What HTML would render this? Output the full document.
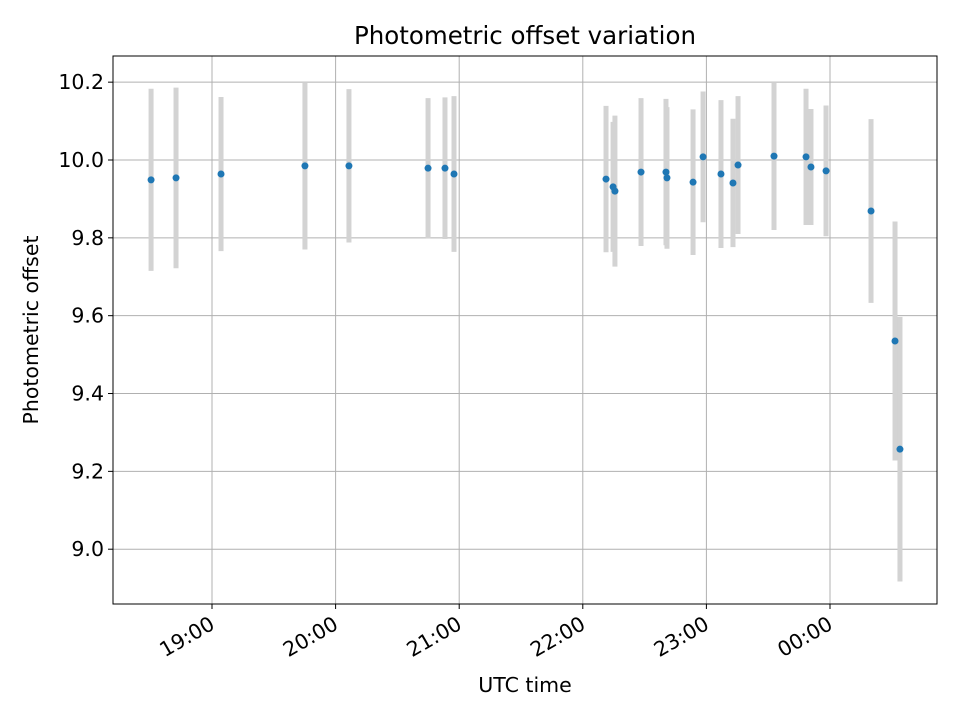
<!DOCTYPE html>
<html><head><meta charset="utf-8"><style>
body{margin:0;background:#fff;}
svg text{font-family:"DejaVu Sans","Liberation Sans",sans-serif;fill:#000;}
</style></head><body>
<svg id="chart" width="960" height="720" xmlns="http://www.w3.org/2000/svg"></svg>
<script>
const times=[18.507,18.709,19.073,19.752,20.108,20.748,20.885,20.958,22.188,22.245,22.26,22.471,22.673,22.681,22.892,22.973,23.118,23.215,23.256,23.547,23.806,23.846,23.968,24.332,24.526,24.566];
const values=[9.949,9.954,9.964,9.985,9.985,9.979,9.979,9.964,9.951,9.931,9.92,9.969,9.969,9.954,9.943,10.008,9.964,9.941,9.987,10.01,10.008,9.982,9.972,9.869,9.535,9.257];
const errors=[0.234,0.232,0.198,0.215,0.197,0.18,0.182,0.2,0.188,0.167,0.194,0.19,0.188,0.182,0.187,0.168,0.19,0.165,0.177,0.19,0.175,0.149,0.168,0.236,0.307,0.34];
const xTicks=[19,20,21,22,23,24];
const xTickLabels=["19:00","20:00","21:00","22:00","23:00","00:00"];
const yTicks=[9.0,9.2,9.4,9.6,9.8,10.0,10.2];
const yTickLabels=["9.0","9.2","9.4","9.6","9.8","10.0","10.2"];

const L=113,R=937,T=56,B=604;
const xs=h=>212+(h-19)*123.6;
const ys=v=>160-(v-10)*389.2;
const svg=document.getElementById('chart');
const NS='http://www.w3.org/2000/svg';
function mk(tag,attrs,parent){const e=document.createElementNS(NS,tag);for(const k in attrs)e.setAttribute(k,attrs[k]);(parent||svg).appendChild(e);return e;}

const grid=mk('g',{});


xTicks.forEach((t,i)=>{
  const x=xs(t);
  const gl=mk('line',{x1:x,x2:x,y1:T,y2:B,stroke:'#b0b0b0','stroke-width':1},grid);
  
  
  const tk=mk('line',{x1:x,x2:x,y1:B,y2:B+5,stroke:'#000','stroke-width':1});
  
  
  const tx=mk('text',{x:x+4,y:B+24,'font-size':20.5,'text-anchor':'end',transform:`rotate(-30 ${x+4} ${B+24})`});
  tx.textContent=xTickLabels[i];
  
  
});
yTicks.forEach((t,i)=>{
  const y=ys(t);
  const gl=mk('line',{x1:L,x2:R,y1:y,y2:y,stroke:'#b0b0b0','stroke-width':1},grid);
  
  
  const tk=mk('line',{x1:L-5,x2:L,y1:y,y2:y,stroke:'#000','stroke-width':1});
  
  
  const tx=mk('text',{x:L-9,y:y+7,'font-size':20.5,'text-anchor':'end'});
  tx.textContent=yTickLabels[i];
  
  
});
times.forEach((t,i)=>{
  const x=xs(t);
  const eb=mk('line',{x1:x,x2:x,y1:ys(values[i]+errors[i]),y2:ys(values[i]-errors[i]),stroke:'#d3d3d3','stroke-width':5});
  
  
});
times.forEach((t,i)=>{
  const c=mk('circle',{cx:xs(t),cy:ys(values[i]),r:3.5,fill:'#1f77b4'});
  
  
});
const fr=mk('rect',{x:L,y:T,width:R-L,height:B-T,fill:'none',stroke:'#000','stroke-width':1});


const ti=mk('text',{x:(L+R)/2,y:44,'font-size':24.5,'text-anchor':'middle'});
ti.textContent='Photometric offset variation';


const xl=mk('text',{x:(L+R)/2,y:692,'font-size':20.5,'text-anchor':'middle'});
xl.textContent='UTC time';


const yl=mk('text',{x:38,y:(T+B)/2,'font-size':20.5,'text-anchor':'middle',transform:`rotate(-90 38 ${(T+B)/2})`});
yl.textContent='Photometric offset';


</script>
</body></html>
